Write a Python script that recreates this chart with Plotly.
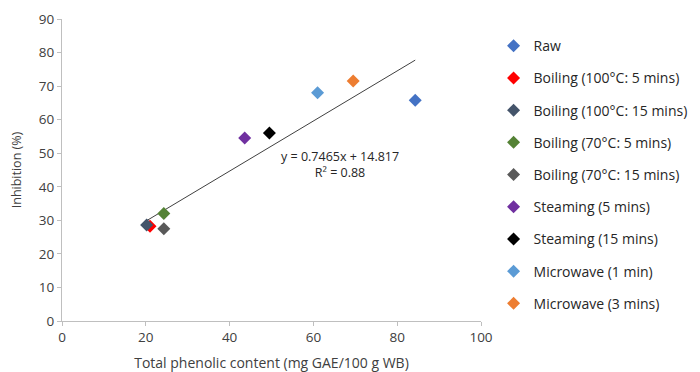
import plotly.graph_objects as go

names = ["Raw", "Boiling (100°C: 5 mins)", "Boiling (100°C: 15 mins)", "Boiling (70°C: 5 mins)",
         "Boiling (70°C: 15 mins)", "Steaming (5 mins)", "Steaming (15 mins)",
         "Microwave (1 min)", "Microwave (3 mins)"]
tpc = [84.3, 21.0, 20.2, 24.3, 24.3, 43.6, 49.5, 61.0, 69.5]
inhibition = [65.8, 28.2, 28.6, 32.0, 27.5, 54.5, 56.0, 68.0, 71.5]
colors = ["#4472C4", "#FF0000", "#44546A", "#548235", "#595959", "#7030A0", "#000000", "#5B9BD5", "#ED7D31"]
slope = 0.7465
intercept = 14.817
r2 = 0.88

x_ticks = [0, 20, 40, 60, 80, 100]
y_ticks = [0, 10, 20, 30, 40, 50, 60, 70, 80, 90]

fig = go.Figure()
xmin, xmax = min(tpc), max(tpc)
fig.add_trace(go.Scatter(x=[xmin, xmax], y=[slope * xmin + intercept, slope * xmax + intercept],
                         mode="lines", line=dict(color="#404040", width=1), showlegend=False,
                         hoverinfo="skip"))
for n, x, y, c in zip(names, tpc, inhibition, colors):
    fig.add_trace(go.Scatter(x=[x], y=[y], mode="markers", name=n, legendgroup=n,
                             marker=dict(symbol="diamond", size=10, color=c)))

fig.add_annotation(x=66.4, y=46.7, xref="x", yref="y",
                   text=f"y = {slope}x + {intercept}<br>R² = {r2}",
                   showarrow=False, font=dict(size=12.5, color="#262626"), align="center")

axis_common = dict(showgrid=False, zeroline=False, showline=True, linecolor="#BFBFBF", linewidth=1,
                   ticks="outside", tickcolor="#BFBFBF", ticklen=4, automargin=False,
                   tickfont=dict(size=13.5, color="#404040"))
fig.update_xaxes(range=[0, 100], tickvals=x_ticks, title_text="Total phenolic content (mg GAE/100 g WB)",
                 title_standoff=15, title_font=dict(size=14, color="#404040"), **axis_common)
fig.update_yaxes(range=[0, 90], tickvals=y_ticks, title_text="Inhibition (%)", title_standoff=14,
                 title_font=dict(size=12.5, color="#404040"), **axis_common)

fig.update_layout(
    width=692, height=364,
    margin=dict(l=54, r=219, t=11, b=51, autoexpand=False),
    plot_bgcolor="white", paper_bgcolor="white",
    font=dict(family="Open Sans, Liberation Sans, sans-serif", color="#404040"),
    legend=dict(x=1.03, y=0.963, xanchor="left", yanchor="top", tracegroupgap=11,
                font=dict(size=14, color="#262626"), itemwidth=30),
)
fig.write_html("out.html")
